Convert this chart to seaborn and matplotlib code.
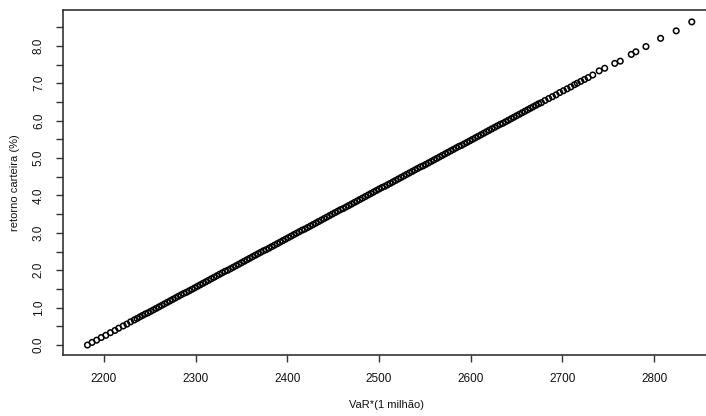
"""Scatter of portfolio return against VaR."""
import matplotlib

matplotlib.use("Agg")
import matplotlib.pyplot as plt
import seaborn as sns
from matplotlib.ticker import FixedLocator, MultipleLocator

# VaR values (in units of 1 million) and portfolio return (%)
var_values = [
    2182, 2187, 2192, 2197, 2202, 2207, 2212, 2216, 2221, 2225, 2229, 2233,
    2236, 2239, 2242, 2245, 2248, 2251,
    2254, 2257, 2260, 2263, 2266, 2269, 2272, 2275, 2278, 2281, 2284, 2287,
    2290, 2293, 2296, 2299, 2302, 2305, 2308, 2311, 2314, 2317, 2320, 2323,
    2326, 2329, 2332, 2335, 2338, 2341, 2344, 2347, 2350, 2353, 2356, 2359,
    2362, 2365, 2368, 2371, 2374, 2377, 2380, 2383, 2386, 2389, 2392, 2395,
    2398, 2401, 2404, 2407, 2410, 2413, 2416, 2419, 2422, 2425, 2428, 2431,
    2434, 2437, 2440, 2443, 2446, 2449, 2452, 2455, 2458, 2461, 2464, 2467,
    2470, 2473, 2476, 2479, 2482, 2485, 2488, 2491, 2494, 2497, 2500, 2503,
    2506, 2509, 2512, 2515, 2518, 2521, 2524, 2527, 2530, 2533, 2536, 2539,
    2542, 2545, 2548, 2551, 2554, 2557, 2560, 2563, 2566, 2569, 2572, 2575,
    2578, 2581, 2584, 2587, 2590, 2593, 2596, 2599, 2602, 2605, 2608, 2611,
    2614, 2617, 2620, 2623, 2626, 2629, 2632, 2635, 2638, 2641, 2644, 2647,
    2650, 2653, 2656, 2659, 2662,
    2665, 2668, 2671, 2674, 2677, 2681, 2685, 2689, 2693, 2697, 2701, 2705,
    2709, 2713, 2716, 2720, 2724, 2728, 2733, 2740, 2746, 2757, 2763, 2775,
    2780, 2791, 2807, 2824, 2841,
]
return_values = [
    0.00, 0.07, 0.13, 0.20, 0.26, 0.33, 0.39, 0.45, 0.51, 0.56, 0.62, 0.67,
    0.71, 0.75, 0.79, 0.83, 0.86, 0.90,
    0.94, 0.98, 1.02, 1.06, 1.10, 1.14, 1.18, 1.22, 1.26, 1.30, 1.34, 1.38,
    1.41, 1.45, 1.49, 1.53, 1.57, 1.61, 1.65, 1.69, 1.73, 1.77, 1.81, 1.85,
    1.89, 1.93, 1.97, 2.00, 2.04, 2.08, 2.12, 2.16, 2.20, 2.24, 2.28, 2.32,
    2.36, 2.40, 2.44, 2.48, 2.52, 2.55, 2.59, 2.63, 2.67, 2.71, 2.75, 2.79,
    2.83, 2.87, 2.91, 2.95, 2.99, 3.03, 3.07, 3.10, 3.14, 3.18, 3.22, 3.26,
    3.30, 3.34, 3.38, 3.42, 3.46, 3.50, 3.54, 3.58, 3.62, 3.65, 3.69, 3.73,
    3.77, 3.81, 3.85, 3.89, 3.93, 3.97, 4.01, 4.05, 4.09, 4.13, 4.17, 4.21,
    4.24, 4.28, 4.32, 4.36, 4.40, 4.44, 4.48, 4.52, 4.56, 4.60, 4.64, 4.68,
    4.72, 4.76, 4.79, 4.83, 4.87, 4.91, 4.95, 4.99, 5.03, 5.07, 5.11, 5.15,
    5.19, 5.23, 5.27, 5.31, 5.34, 5.38, 5.42, 5.46, 5.50, 5.54, 5.58, 5.62,
    5.66, 5.70, 5.74, 5.78, 5.82, 5.86, 5.90, 5.93, 5.97, 6.01, 6.05, 6.09,
    6.13, 6.17, 6.21, 6.25, 6.29,
    6.33, 6.37, 6.41, 6.45, 6.48, 6.54, 6.59, 6.64, 6.69, 6.75, 6.80, 6.85,
    6.90, 6.96, 7.00, 7.05, 7.10, 7.15, 7.22, 7.33, 7.40, 7.53, 7.59, 7.77,
    7.84, 7.98, 8.20, 8.40, 8.64,
]

x_ticks = [2200, 2300, 2400, 2500, 2600, 2700, 2800]
x_tick_labels = ["2200", "2300", "2400", "2500", "2600", "2700", "2800"]
y_ticks = [0, 1, 2, 3, 4, 5, 6, 7, 8]
y_tick_labels = ["0.0", "1.0", "2.0", "3.0", "4.0", "5.0", "6.0", "7.0", "8.0"]

x_label = "VaR*(1 milhão)"
y_label = "retorno carteira (%)"


def main():
    sns.set_theme(style="white")
    plt.rcParams["font.family"] = ["Liberation Sans", "DejaVu Sans"]

    fig = plt.figure(figsize=(7.06, 4.16), dpi=100)
    ax = fig.add_axes([0.0892, 0.1466, 0.9164, 0.8293])

    sns.scatterplot(
        x=var_values,
        y=return_values,
        ax=ax,
        marker="o",
        s=16,
        color="black",
        facecolor="none",
        edgecolor="black",
        linewidth=1.1,
        legend=False,
    )

    ax.set_xlim(2155.3, 2860.8)
    ax.set_ylim(-0.267, 8.957)

    ax.xaxis.set_major_locator(FixedLocator(x_ticks))
    ax.set_xticklabels(x_tick_labels)
    ax.yaxis.set_major_locator(FixedLocator(y_ticks))
    ax.set_yticklabels(y_tick_labels)
    ax.yaxis.set_minor_locator(MultipleLocator(0.5))

    ax.tick_params(axis="both", which="both", direction="out", length=5,
                   width=1.0, color="#333333", labelsize=8.5, pad=8,
                   labelcolor="#111111")
    ax.tick_params(axis="x", which="both", bottom=True)
    ax.tick_params(axis="y", which="both", left=True, labelrotation=90)
    for label in ax.get_yticklabels():
        label.set_va("center")

    for side in ["left", "bottom", "top", "right"]:
        ax.spines[side].set_color("#333333")
        ax.spines[side].set_linewidth(1.2)

    ax.set_xlabel(x_label, fontsize=8, labelpad=11, color="#111111")
    ax.set_ylabel(y_label, fontsize=8, labelpad=9, color="#111111")

    fig.savefig("out.png", dpi=100)


if __name__ == "__main__":
    main()
